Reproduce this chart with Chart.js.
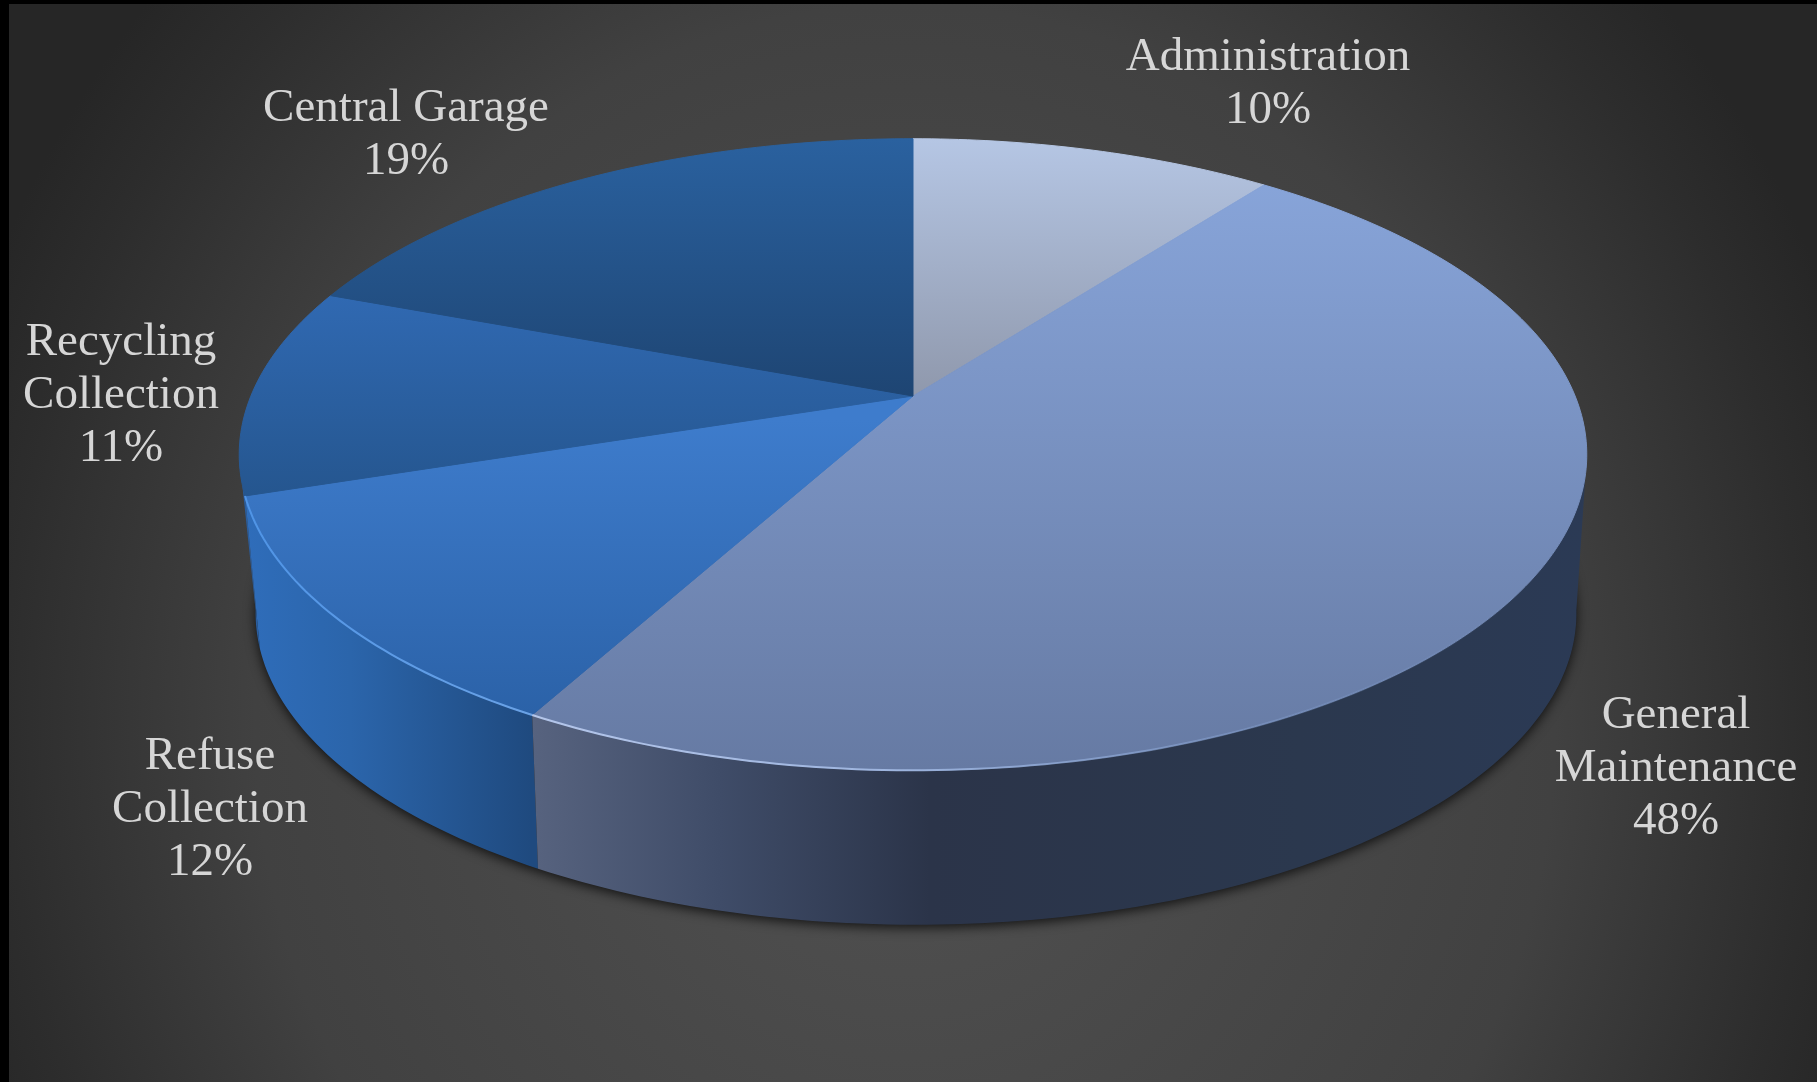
<!DOCTYPE html>
<html>
<head>
<meta charset="utf-8">
<style>html,body{margin:0;padding:0;background:#000;overflow:hidden}canvas{display:block;filter:blur(0.7px)}</style>
<script src="https://cdn.jsdelivr.net/npm/chart.js@4"></script>
</head>
<body>
<canvas id="c" width="1817" height="1082"></canvas>
<script>
const categories = ['Administration', 'General Maintenance', 'Refuse Collection', 'Recycling Collection', 'Central Garage'];
const values = [10.4, 47.6, 12, 10.7, 19.3];
const percentLabels = ['10%', '48%', '12%', '11%', '19%'];
const labelLines = [['Administration'], ['General', 'Maintenance'], ['Refuse', 'Collection'], ['Recycling', 'Collection'], ['Central Garage']];

// layout and styling (not data)
const labelCentres = [[1268, 58], [1676, 716], [210, 757], [121, 343], [406, 109]];
const lineGap = 53;
const topStops = [['#b5c6e4', '#8f98ac', 139, 396], ['#88a5da', '#667aa3', 170, 771], ['#3e7ccc', '#2b62a8', 420, 713], ['#3069b2', '#25568f', 296, 495], ['#2a619f', '#1e4573', 139, 396]];
const wallStops = [
  [[0, '#333']],
  [[531, '#57637f'], [720, '#3f4c68'], [930, '#2b3449'], [1300, '#2b384e'], [1590, '#2b3a55']],
  [[245, '#2f6dba'], [350, '#2b65ab'], [531, '#1f4a7f']],
  [[0, '#2a5d9e']],
  [[0, '#1e4573']]
];
const rimStops = [null, [[531, '#b4c6ea'], [900, '#9db4de'], [1300, 'rgba(140,170,220,0.3)'], [1590, 'rgba(140,170,220,0)']], [[245, '#4f94e6'], [531, '#6aa2e6']], null, null];
const TOP = {ax: 1.672, by: 0.770, p: 0.1853, dx: 0, dy: 0};
const BOT = {ax: 1.634, by: 0.755, p: 0.2, dx: 3, dy: 155};
const FRONT_FROM = 11 * Math.PI / 180, FRONT_TO = 169 * Math.PI / 180;

function project(el, f, a, r) {
  const u = Math.cos(a) * r, v = Math.sin(a) * r, R = el.outerRadius, w = 1 - f.p * v;
  return [el.x + f.dx + R * f.ax * u / w, el.y + f.dy + R * f.by * v / w];
}
function rim(el, f, a0, a1) {
  const pts = [], n = Math.max(4, Math.ceil(Math.abs(a1 - a0) * 60));
  for (let i = 0; i <= n; i++) pts.push(project(el, f, a0 + (a1 - a0) * i / n, 1));
  return pts;
}
function trace(ctx, pts) {
  pts.forEach((p, i) => i ? ctx.lineTo(p[0], p[1]) : ctx.moveTo(p[0], p[1]));
}
function hGrad(ctx, stops) {
  if (stops.length === 1) return stops[0][1];
  const x0 = stops[0][0], x1 = stops[stops.length - 1][0], g = ctx.createLinearGradient(x0, 0, x1, 0);
  stops.forEach(s => g.addColorStop((s[0] - x0) / (x1 - x0), s[1]));
  return g;
}

const pie3d = {
  id: 'pie3d',
  beforeDraw(chart) {
    const ctx = chart.ctx, W = chart.width, H = chart.height;
    ctx.save();
    ctx.fillStyle = '#000';
    ctx.fillRect(0, 0, W, H);
    ctx.beginPath();
    ctx.rect(9, 4, W - 9, H - 4);
    ctx.clip();
    ctx.translate(905, 720);
    ctx.scale(1000, 1100);
    const g = ctx.createRadialGradient(0, 0, 0, 0, 0, 1);
    g.addColorStop(0, '#525252');
    g.addColorStop(0.65, '#414141');
    g.addColorStop(0.9, '#2d2d2d');
    g.addColorStop(1, '#262626');
    ctx.fillStyle = g;
    ctx.fillRect(-2, -2, 4, 4);
    ctx.restore();
  },
  beforeDatasetDraw(chart) {
    const ctx = chart.ctx, arcs = chart.getDatasetMeta(0).data;
    ctx.save();
    // soft shadow below the disc
    ctx.save();
    ctx.shadowColor = 'rgba(0,0,0,0.75)';
    ctx.shadowBlur = 12;
    ctx.shadowOffsetY = 3;
    ctx.fillStyle = '#222';
    ctx.beginPath();
    trace(ctx, rim(arcs[0], BOT, 0, Math.PI * 2));
    ctx.closePath();
    ctx.fill();
    ctx.restore();
    // side wall, only the part that faces the viewer
    [3, 2, 1].forEach(i => {
      const el = arcs[i];
      const segs = [[el.startAngle, el.endAngle], [el.startAngle - 2 * Math.PI, el.endAngle - 2 * Math.PI]];
      segs.forEach(s => {
        const a0 = Math.max(s[0], FRONT_FROM), a1 = Math.min(s[1], FRONT_TO);
        if (a1 <= a0) return;
        const top = rim(el, TOP, a0, a1), bot = rim(el, BOT, a0, a1).reverse();
        ctx.beginPath();
        trace(ctx, top.concat(bot));
        ctx.closePath();
        ctx.fillStyle = hGrad(ctx, wallStops[i]);
        ctx.fill();
      });
    });
    // top faces
    arcs.forEach((el, i) => {
      const s = topStops[i], g = ctx.createLinearGradient(0, s[2], 0, s[3]);
      g.addColorStop(0, s[0]);
      g.addColorStop(1, s[1]);
      ctx.beginPath();
      trace(ctx, [project(el, TOP, 0, 0)].concat(rim(el, TOP, el.startAngle, el.endAngle)));
      ctx.closePath();
      ctx.fillStyle = g;
      ctx.strokeStyle = g;
      ctx.lineWidth = 1;
      ctx.fill();
      ctx.stroke();
    });
    // bright rim on the front edge
    arcs.forEach((el, i) => {
      if (!rimStops[i]) return;
      ctx.beginPath();
      trace(ctx, rim(el, TOP, Math.max(el.startAngle, FRONT_FROM), el.endAngle));
      ctx.strokeStyle = hGrad(ctx, rimStops[i]);
      ctx.lineWidth = 2;
      ctx.stroke();
    });
    ctx.restore();
    return false;
  },
  afterDraw(chart) {
    const ctx = chart.ctx;
    ctx.save();
    ctx.font = '47px "Liberation Serif"';
    ctx.textAlign = 'center';
    ctx.textBaseline = 'middle';
    ctx.fillStyle = '#d6d6d6';
    categories.forEach((name, i) => {
      const lines = labelLines[i].concat(percentLabels[i]), c = labelCentres[i];
      lines.forEach((t, k) => ctx.fillText(t, c[0], c[1] + k * lineGap));
    });
    ctx.restore();
  }
};

new Chart(document.getElementById('c'), {
  type: 'pie',
  data: {
    labels: categories,
    datasets: [{data: values, backgroundColor: topStops.map(s => s[0]), borderWidth: 0}]
  },
  options: {
    responsive: false,
    animation: false,
    devicePixelRatio: 1,
    layout: {padding: {left: 9, right: 0, top: 0, bottom: 290}},
    plugins: {legend: {display: false}, tooltip: {enabled: false}}
  },
  plugins: [pie3d]
});
</script>
</body>
</html>
